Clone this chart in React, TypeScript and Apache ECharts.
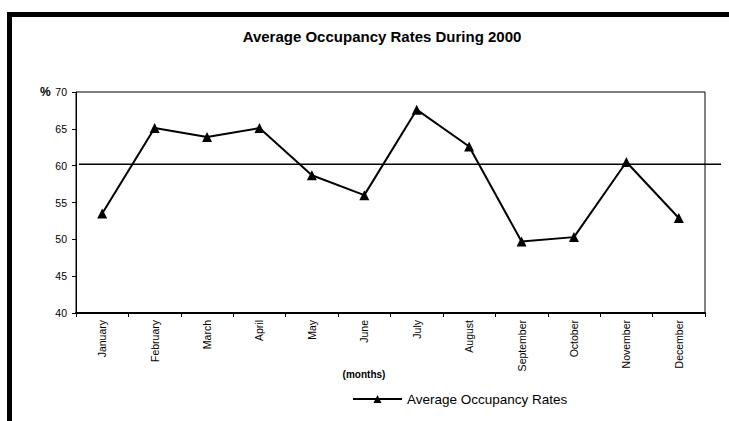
import React, { useEffect, useRef } from "react";
import * as echarts from "echarts";

const months = [
  "January", "February", "March", "April", "May", "June",
  "July", "August", "September", "October", "November", "December",
];
const occupancy = [53.5, 65.1, 63.9, 65.1, 58.7, 56.0, 67.6, 62.6, 49.7, 50.3, 60.5, 52.9];
const yMin = 40;
const yMax = 70;
const yInterval = 5;
const referenceLevel = 60.2;
const seriesName = "Average Occupancy Rates";
const titleText = "Average Occupancy Rates During 2000";

const FONT = "'Liberation Sans', Arial, Helvetica, sans-serif";

export default function App() {
  const ref = useRef<HTMLDivElement>(null);
  useEffect(() => {
    const chart = echarts.init(ref.current!, null, { renderer: "svg" });
    const baseGraphic: any[] = [
      {
        id: "frame",
        type: "rect",
        silent: true,
        z: 0,
        shape: { x: 9.5, y: 14.5, width: 1000, height: 1000 },
        style: { fill: "none", stroke: "#000", lineWidth: 5 },
      },
      {
        id: "pct",
        type: "text",
        x: 40,
        y: 92,
        style: {
          text: "%",
          fontSize: 12,
          fontWeight: "bold",
          fontFamily: FONT,
          fill: "#000",
          align: "left",
          verticalAlign: "middle",
        },
      },
    ];
    chart.setOption({
      animation: false,
      backgroundColor: "#fff",
      title: {
        text: titleText,
        left: 377,
        textAlign: "center",
        top: 24,
        textStyle: { fontSize: 15, fontWeight: "bold", fontFamily: FONT, color: "#000" },
      },
      grid: {
        left: 76,
        right: 24,
        top: 92,
        bottom: 108,
        show: true,
        borderColor: "#000",
        borderWidth: 1,
      },
      legend: {
        left: 347,
        top: 387,
        itemWidth: 49,
        itemHeight: 10,
        itemGap: 4,
        data: [seriesName],
        textStyle: { fontSize: 13.5, fontFamily: FONT, color: "#000" },
      },
      xAxis: {
        type: "category",
        data: months,
        boundaryGap: true,
        axisLine: { lineStyle: { color: "#000", width: 2 } },
        axisTick: { show: true, length: 4, lineStyle: { color: "#000" } },
        axisLabel: { rotate: 90, fontSize: 10.5, color: "#000", margin: 7, fontFamily: FONT },
        name: "(months)",
        nameLocation: "middle",
        nameGap: 56,
        nameMoveOverlap: false,
        nameTextStyle: {
          fontSize: 10,
          fontWeight: "bold",
          fontFamily: FONT,
          color: "#000",
          padding: [0, 53, 0, 0],
        },
      },
      yAxis: {
        type: "value",
        min: yMin,
        max: yMax,
        interval: yInterval,
        axisLine: { show: true, lineStyle: { color: "#000", width: 1 } },
        axisTick: { show: true, length: 4, lineStyle: { color: "#000" } },
        axisLabel: { fontSize: 10.5, color: "#000", margin: 9, fontFamily: FONT },
        splitLine: { show: false },
      },
      series: [
        {
          type: "line",
          name: seriesName,
          data: occupancy,
          symbol: "triangle",
          symbolSize: 10,
          showAllSymbol: true,
          lineStyle: { color: "#000", width: 2 },
          itemStyle: { color: "#000" },
          z: 3,
        },
      ],
      graphic: baseGraphic,
    });
    const yPix = chart.convertToPixel({ yAxisIndex: 0 }, referenceLevel) as number;
    chart.setOption({
      graphic: [
        ...baseGraphic,
        {
          id: "refline",
          type: "line",
          silent: true,
          z: 1,
          shape: { x1: 79, y1: yPix, x2: 721, y2: yPix },
          style: { stroke: "#000", lineWidth: 1.5 },
        },
      ],
    });
    return () => chart.dispose();
  }, []);
  return (
    <div
      ref={ref}
      style={{ position: "absolute", left: 0, top: 0, width: 729, height: 421 }}
    />
  );
}
